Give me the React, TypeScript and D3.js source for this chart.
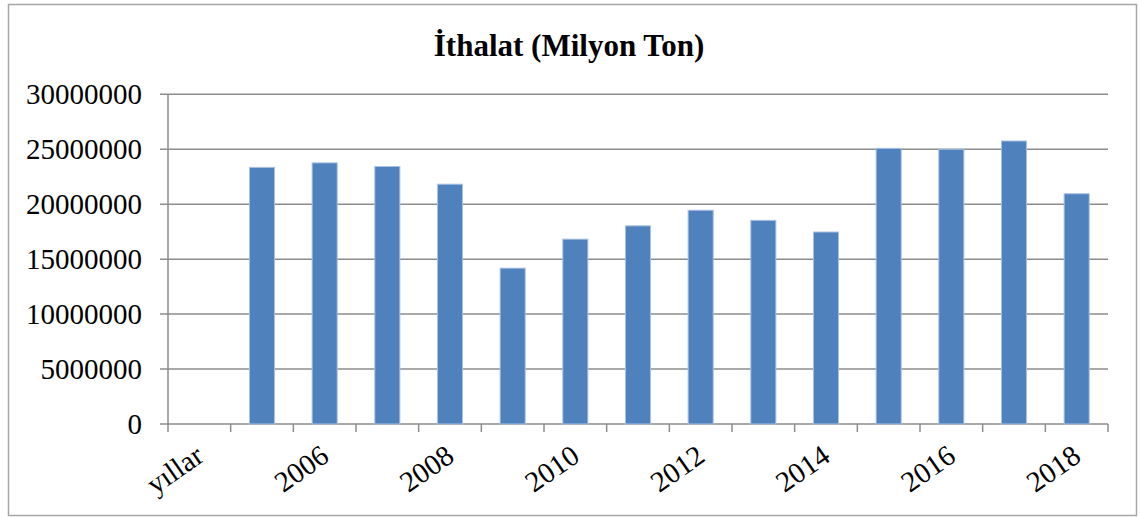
import * as d3 from 'd3';

const categories = ['yıllar', '2005', '2006', '2007', '2008', '2009', '2010', '2011', '2012', '2013', '2014', '2015', '2016', '2017', '2018'];
const values: (number | null)[] = [
  null, 23350000, 23760000, 23430000, 21820000, 14180000, 16820000, 18030000,
  19450000, 18530000, 17470000, 25080000, 25000000, 25750000, 20950000,
];
const yTicks = [0, 5000000, 10000000, 15000000, 20000000, 25000000, 30000000];
const title = 'İthalat (Milyon Ton)';

export default function App() {
  const width = 1141;
  const height = 517;
  const left = 168;
  const right = 1108;
  const top = 94.3;
  const bottom = 424;

  const x = d3.scaleBand<string>().domain(categories).range([left, right]).paddingInner(0.6).paddingOuter(0.3);
  const y = d3.scaleLinear().domain([0, 30000000]).range([bottom, top]);
  const step = x.step();
  const font = "'Liberation Serif', 'DejaVu Serif', serif";
  const grey = '#8c8c8c';

  return (
    <svg width={width} height={height} style={{ position: 'absolute', left: 0, top: 0, fontFamily: font }}>
      <rect x={0} y={0} width={width} height={height} fill="#fff" />
      <rect x={8.5} y={4.5} width={1128} height={511} fill="none" stroke="#a6a6a6" strokeWidth={1.5} />
      <text x={569} y={56} textAnchor="middle" fontSize={31} fontWeight="bold" fill="#000">{title}</text>

      {yTicks.map((t) => (
        <g key={t}>
          <line x1={left - 8} x2={right} y1={y(t)} y2={y(t)} stroke={grey} strokeWidth={1.5} />
          <text x={142} y={y(t)} dy="0.35em" textAnchor="end" fontSize={29} fill="#000">{t}</text>
        </g>
      ))}
      <line x1={left} x2={left} y1={top} y2={bottom} stroke={grey} strokeWidth={1.5} />
      {d3.range(categories.length + 1).map((i) => (
        <line key={i} x1={left + i * step} x2={left + i * step} y1={bottom} y2={bottom + 8} stroke={grey} strokeWidth={1.5} />
      ))}

      {categories.map((c, i) =>
        values[i] == null ? null : (
          <rect
            key={c}
            x={x(c)}
            y={y(values[i] as number)}
            width={x.bandwidth()}
            height={bottom - y(values[i] as number)}
            fill="#4f81bd"
            stroke="#a9c1e2"
            strokeWidth={1}
          />
        )
      )}

      {categories.map((c, i) =>
        i % 2 === 0 ? (
          <text
            key={c}
            transform={`translate(${(x(c) ?? 0) + x.bandwidth() / 2 + 6},${460}) rotate(-35)`}
            textAnchor="end"
            fontSize={29}
            fill="#000"
          >
            {c}
          </text>
        ) : null
      )}
    </svg>
  );
}
